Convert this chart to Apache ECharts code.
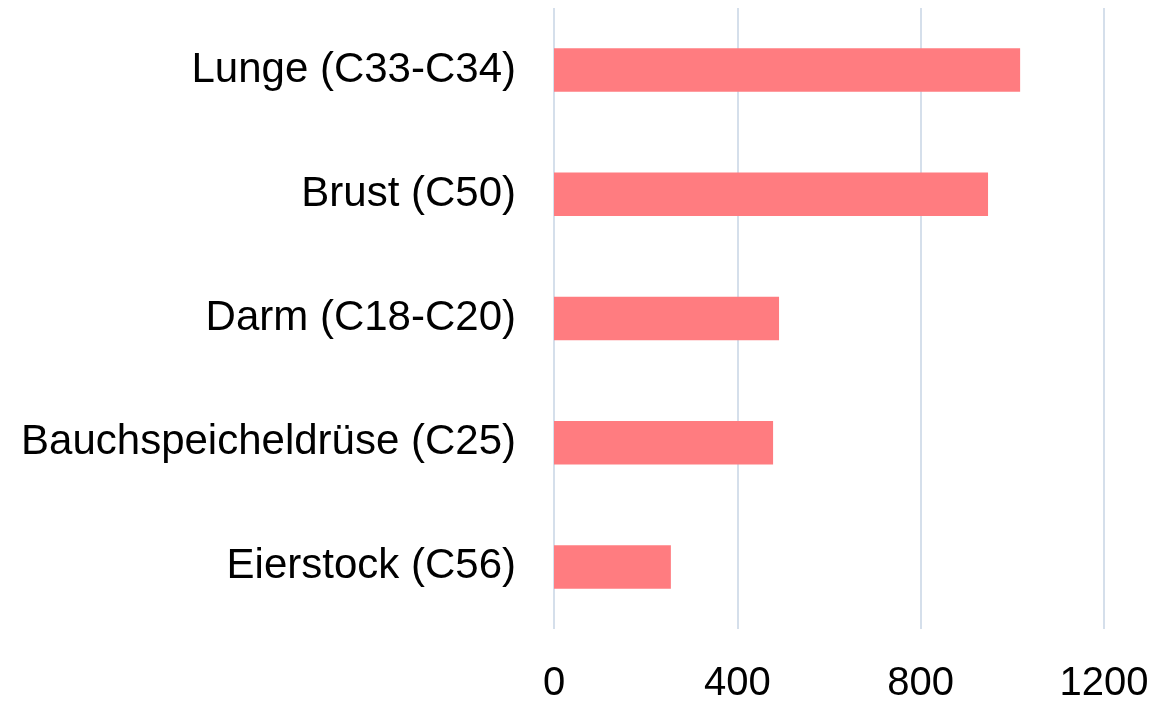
<!DOCTYPE html>
<html>
<head>
<meta charset="utf-8">
<script src="https://cdn.jsdelivr.net/npm/echarts@6/dist/echarts.min.js"></script>
<style>
  html, body { margin: 0; padding: 0; background: #ffffff; }
  #chart { width: 1158px; height: 704px; }
</style>
</head>
<body>
<div id="chart"></div>
<script>
// Kategorien von oben nach unten
var categories = ['Lunge (C33-C34)', 'Brust (C50)', 'Darm (C18-C20)', 'Bauchspeicheldrüse (C25)', 'Eierstock (C56)'];
var values = [1017, 947, 491, 478, 255];
var xTicks = [0, 400, 800, 1200];

var chart = echarts.init(document.getElementById('chart'));

var option = {
  backgroundColor: '#ffffff',
  animation: false,
  grid: {
    left: 554,
    right: 54,
    top: 8,
    bottom: 70
  },
  xAxis: {
    type: 'value',
    min: xTicks[0],
    max: xTicks[xTicks.length - 1],
    interval: xTicks[1] - xTicks[0],
    axisLine: { show: false },
    axisTick: { show: false },
    axisLabel: {
      margin: 35,
      color: '#000000',
      fontSize: 40,
      fontFamily: 'Liberation Sans, Arial, sans-serif',
      formatter: function (v) { return String(v); }
    },
    splitLine: {
      show: true,
      lineStyle: { color: '#d5dfeb', width: 2 }
    }
  },
  yAxis: {
    type: 'category',
    inverse: true,
    data: categories,
    axisLine: { show: false },
    axisTick: { show: false },
    splitLine: { show: false },
    axisLabel: {
      margin: 38,
      color: '#000000',
      fontSize: 42,
      fontFamily: 'Liberation Sans, Arial, sans-serif',
      padding: [0, 0, 0, 0],
      lineHeight: 42,
      verticalAlign: 'middle',
      baseline: 'middle'
    }
  },
  series: [{
    type: 'bar',
    data: values,
    barCategoryGap: '65%',
    itemStyle: { color: '#ff7c80' }
  }]
};

chart.setOption(option);
</script>
</body>
</html>
